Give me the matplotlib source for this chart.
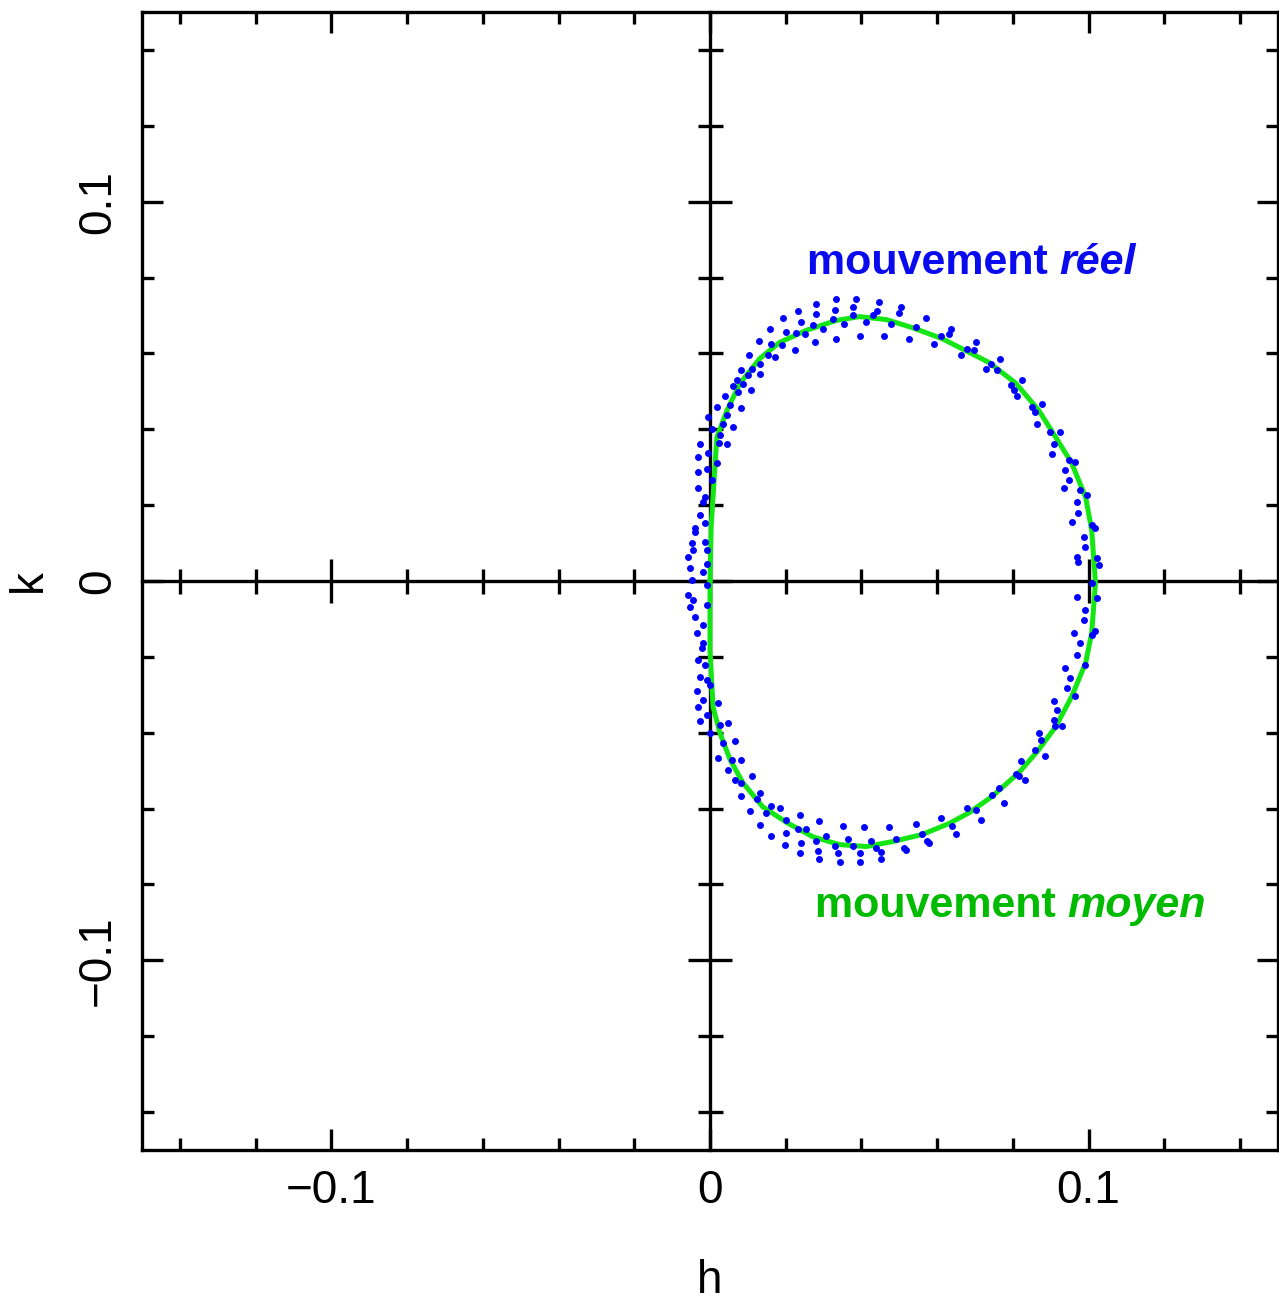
import numpy as np
import matplotlib
matplotlib.use("Agg")
import matplotlib.pyplot as plt
from matplotlib.ticker import MultipleLocator, FixedLocator, FixedFormatter

plt.rcParams['font.family'] = ['Liberation Sans', 'DejaVu Sans']

# mean motion (green closed curve) in the (h, k) plane
mean_h = [0.0, 0.0003, 0.0018, 0.0045, 0.0079, 0.0132, 0.0184, 0.0255, 0.0334, 0.0395,
          0.0466, 0.0534, 0.0613, 0.0737, 0.0808, 0.0868, 0.0913, 0.0955, 0.0992, 0.1008,
          0.1018, 0.1008, 0.0992, 0.0955, 0.0913, 0.0868, 0.0816, 0.0745, 0.0684, 0.0632,
          0.0561, 0.0482, 0.0413, 0.0342, 0.0271, 0.0203, 0.0139, 0.0087, 0.0053, 0.0026,
          0.0008, 0.0, 0.0]
mean_k = [0.0, 0.0142, 0.0379, 0.0450, 0.0521, 0.0587, 0.0629, 0.0661, 0.0687, 0.0697,
          0.0689, 0.0668, 0.0639, 0.0576, 0.0521, 0.0450, 0.0379, 0.0311, 0.0221, 0.0134,
          -0.0005, -0.0137, -0.0216, -0.0305, -0.0384, -0.0445, -0.0505, -0.0568, -0.0611, -0.0639,
          -0.0668, -0.0687, -0.0700, -0.0695, -0.0674, -0.0637, -0.0595, -0.0532, -0.0471, -0.0400,
          -0.0332, -0.0182, 0.0]

# real motion (blue sampled points), (h, k) pairs by arc
real_upper_left = [
    (0.0332, 0.0744), (0.0386, 0.0744), (0.0446, 0.0735), (0.0281, 0.0729), (0.0329, 0.0715),
    (0.0377, 0.0722), (0.0232, 0.0713), (0.0281, 0.0704), (0.0440, 0.0713), (0.0504, 0.0722),
    (0.0500, 0.0707), (0.0193, 0.0693), (0.0326, 0.0691), (0.0377, 0.0700), (0.0430, 0.0700),
    (0.0478, 0.0678), (0.0570, 0.0694), (0.0239, 0.0682), (0.0272, 0.0676), (0.0355, 0.0678),
    (0.0412, 0.0682), (0.0544, 0.0669), (0.0158, 0.0665), (0.0200, 0.0656), (0.0228, 0.0653),
    (0.0250, 0.0652), (0.0298, 0.0665), (0.0395, 0.0647), (0.0333, 0.0638), (0.0460, 0.0647),
    (0.0526, 0.0638), (0.0276, 0.0630), (0.0129, 0.0634), (0.0162, 0.0625), (0.0189, 0.0621),
    (0.0224, 0.0610), (0.0171, 0.0590), (0.0153, 0.0595), (0.0103, 0.0597), (0.0132, 0.0573),
    (0.0110, 0.0560), (0.0083, 0.0557), (0.0132, 0.0546), (0.0101, 0.0542), (0.0070, 0.0529),
    (0.0061, 0.0513), (0.0107, 0.0503), (0.0088, 0.0520), (0.0039, 0.0489), (0.0075, 0.0498),
    (0.0053, 0.0463), (0.0018, 0.0459), (0.0083, 0.0457), (0.0044, 0.0437), (-0.0004, 0.0432),
    (0.0035, 0.0415), (0.0061, 0.0406), (0.0004, 0.0402), (0.0026, 0.0384), (-0.0026, 0.0362),
    (0.0025, 0.0365), (0.0044, 0.0360), (-0.0004, 0.0338), (-0.0033, 0.0327), (0.0019, 0.0310),
    (-0.0009, 0.0296), (-0.0033, 0.0288), (0.0004, 0.0266), (-0.0031, 0.0244), (-0.0013, 0.0222),
    (-0.0019, 0.0209), (-0.0026, 0.0174), (-0.0013, 0.0152), (-0.0039, 0.0139),
]
real_upper_right = [
    (0.0592, 0.0624), (0.0636, 0.0665), (0.0631, 0.0652), (0.0610, 0.0647), (0.0702, 0.0630),
    (0.0680, 0.0612), (0.0697, 0.0608), (0.0662, 0.0595), (0.0767, 0.0586), (0.0741, 0.0573),
    (0.0728, 0.0560), (0.0759, 0.0555), (0.0824, 0.0531), (0.0794, 0.0516), (0.0802, 0.0503),
    (0.0811, 0.0489), (0.0877, 0.0467), (0.0851, 0.0459), (0.0859, 0.0446), (0.0864, 0.0415),
    (0.0899, 0.0393), (0.0925, 0.0393), (0.0908, 0.0362), (0.0903, 0.0336), (0.0947, 0.0318),
    (0.0965, 0.0314), (0.0938, 0.0292), (0.0947, 0.0266), (0.0934, 0.0244), (0.0978, 0.0239),
    (0.0995, 0.0226), (0.0969, 0.0209), (0.0973, 0.0178), (0.0956, 0.0156), (0.1009, 0.0147),
    (0.1017, 0.0139), (0.0987, 0.0117), (0.0991, 0.0090), (0.0969, 0.0064), (0.0973, 0.0051),
    (0.1022, 0.0060), (0.1026, 0.0042),
]
real_lower_right = [
    (0.1009, -0.0006), (0.0969, -0.0041), (0.1022, -0.0046), (0.0991, -0.0076), (0.0987, -0.0103),
    (0.1017, -0.0133), (0.1009, -0.0142), (0.0960, -0.0138), (0.0978, -0.0164), (0.0969, -0.0195),
    (0.0991, -0.0221), (0.0938, -0.0230), (0.0952, -0.0256), (0.0943, -0.0282), (0.0965, -0.0304),
    (0.0908, -0.0317), (0.0916, -0.0339), (0.0908, -0.0366), (0.0930, -0.0383), (0.0912, -0.0383),
    (0.0868, -0.0401), (0.0873, -0.0418), (0.0859, -0.0445), (0.0886, -0.0462), (0.0820, -0.0475),
    (0.0807, -0.0510), (0.0816, -0.0515), (0.0833, -0.0524), (0.0763, -0.0545), (0.0745, -0.0563),
    (0.0776, -0.0585), (0.0680, -0.0598), (0.0702, -0.0603), (0.0715, -0.0629), (0.0640, -0.0646),
    (0.0649, -0.0668),
]
real_left = [
    (-0.0039, 0.0130), (-0.0013, 0.0103), (-0.0048, 0.0099), (-0.0044, 0.0082), (-0.0009, 0.0082),
    (-0.0057, 0.0064), (-0.0009, 0.0046), (-0.0053, 0.0033), (-0.0018, 0.0025), (-0.0048, 0.0003),
    (-0.0009, -0.0011), (-0.0057, -0.0037), (-0.0044, -0.0050), (-0.0009, -0.0063), (-0.0053, -0.0068),
    (-0.0039, -0.0094), (-0.0018, -0.0116), (-0.0035, -0.0138), (-0.0018, -0.0164), (-0.0022, -0.0177),
    (-0.0031, -0.0208), (-0.0013, -0.0221), (-0.0026, -0.0252), (-0.0009, -0.0260), (0.0000, -0.0274),
    (-0.0035, -0.0291), (-0.0018, -0.0313), (-0.0031, -0.0331), (0.0022, -0.0322), (-0.0009, -0.0353),
]
real_lower_left = [
    (-0.0026, -0.0370), (0.0026, -0.0379), (0.0048, -0.0374), (0.0000, -0.0401), (0.0035, -0.0427),
    (0.0066, -0.0423), (0.0022, -0.0467), (0.0057, -0.0471), (0.0083, -0.0471), (0.0048, -0.0497),
    (0.0066, -0.0524), (0.0110, -0.0515), (0.0083, -0.0532), (0.0132, -0.0559), (0.0083, -0.0567),
    (0.0123, -0.0576), (0.0162, -0.0594), (0.0184, -0.0598), (0.0105, -0.0607), (0.0149, -0.0611),
    (0.0202, -0.0629), (0.0237, -0.0616), (0.0132, -0.0642), (0.0232, -0.0655), (0.0254, -0.0655),
    (0.0162, -0.0673), (0.0202, -0.0664), (0.0289, -0.0633), (0.0351, -0.0645), (0.0408, -0.0649),
    (0.0474, -0.0649), (0.0544, -0.0640), (0.0610, -0.0624), (0.0197, -0.0697), (0.0241, -0.0690),
    (0.0307, -0.0673), (0.0281, -0.0686), (0.0329, -0.0699), (0.0364, -0.0681), (0.0425, -0.0686),
    (0.0491, -0.0681), (0.0237, -0.0718), (0.0285, -0.0712), (0.0338, -0.0717), (0.0395, -0.0717),
    (0.0452, -0.0715), (0.0517, -0.0708), (0.0574, -0.0686), (0.0289, -0.0734), (0.0342, -0.0741),
    (0.0395, -0.0741), (0.0452, -0.0732), (0.0377, -0.0699), (0.0439, -0.0703), (0.0513, -0.0703),
    (0.0561, -0.0668), (0.0579, -0.0690),
]

major_ticks = [-0.1, 0.0, 0.1]
major_labels = ['\u22120.1', '0', '0.1']

W, H = 1279, 1302
fig = plt.figure(figsize=(W / 100, H / 100), dpi=100)
rect = [142 / W, 1 - 1150 / H, (1278 - 142) / W, (1150 - 12) / H]

# outer frame with inward ticks on all four sides
ax = fig.add_axes(rect)
ax.set_xlim(-0.15, 0.15)
ax.set_ylim(-0.15, 0.15)
for s in ax.spines.values():
    s.set_linewidth(2.4)
for axis in (ax.xaxis, ax.yaxis):
    axis.set_major_locator(FixedLocator(major_ticks))
    axis.set_major_formatter(FixedFormatter(major_labels))
    axis.set_minor_locator(MultipleLocator(0.02))
ax.tick_params(which='both', direction='in', top=True, right=True, width=2.4,
               labelsize=33)
ax.tick_params(which='major', length=15)
ax.tick_params(which='minor', length=8.5)
ax.tick_params(axis='x', pad=14)
ax.tick_params(axis='y', pad=16, labelrotation=90)
for lab in ax.get_yticklabels():
    lab.set_va('center')
ax.set_xlabel('h', fontsize=33, labelpad=33)
ax.set_ylabel('k', fontsize=33, labelpad=18)

# inner axes crossing at the origin
ax2 = fig.add_axes(rect, sharex=ax, sharey=ax)
ax2.patch.set_visible(False)
ax2.spines['top'].set_visible(False)
ax2.spines['right'].set_visible(False)
ax2.spines['left'].set_position(('data', 0))
ax2.spines['bottom'].set_position(('data', 0))
ax2.spines['left'].set_linewidth(2.4)
ax2.spines['bottom'].set_linewidth(2.4)
ax2.tick_params(which='both', direction='inout', width=2.4,
                labelbottom=False, labelleft=False, top=False, right=False)
ax2.tick_params(which='major', length=31)
ax2.tick_params(which='minor', length=18)

ax2.plot(mean_h, mean_k, color='#14e614', lw=3.6, solid_capstyle='round',
         solid_joinstyle='round', zorder=3)

real = real_upper_left + real_upper_right + real_lower_right + real_left + real_lower_left
real_h = [p[0] for p in real]
real_k = [p[1] for p in real]
ax2.plot(real_h, real_k, 'o', color='#0000ff', ms=5.0, mec='none', zorder=4)

t1 = ax2.text(0.0256, 0.081, 'mouvement ', color='#0a0aee', fontsize=31,
              fontweight='bold', va='baseline')
ax2.annotate('r\u00e9el', xy=(1, 0), xycoords=t1, va='bottom', color='#0a0aee',
             fontsize=31, fontweight='bold', style='italic')
t2 = ax2.text(0.0277, -0.0887, 'mouvement ', color='#00bb00', fontsize=31,
              fontweight='bold', va='baseline')
ax2.annotate('moyen', xy=(1, 0), xycoords=t2, va='bottom', color='#00bb00',
             fontsize=31, fontweight='bold', style='italic')

fig.savefig('out.png', dpi=100)
